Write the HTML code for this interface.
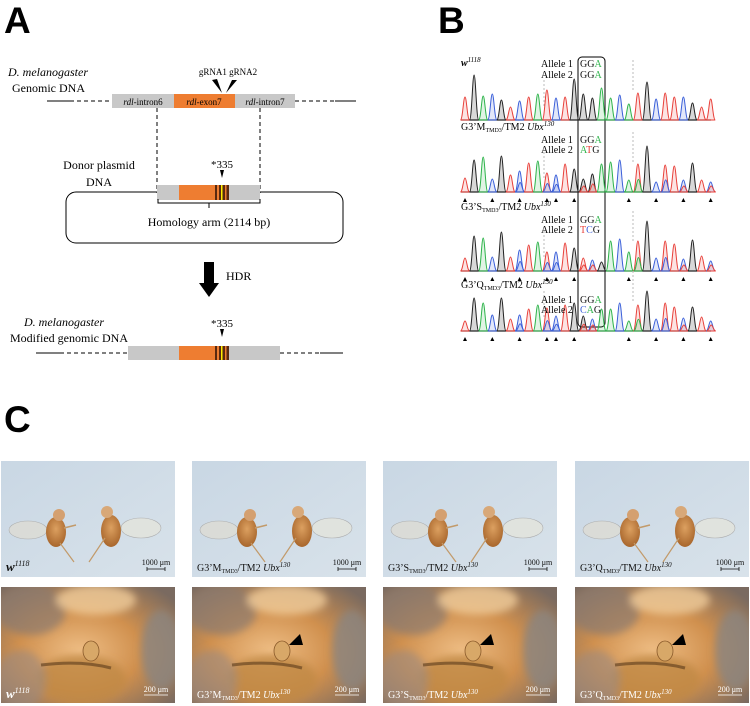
<!DOCTYPE html>
<html><head><meta charset="utf-8"><style>
html,body{margin:0;padding:0;background:#fff}
svg{display:block}
text{font-family:"Liberation Serif",serif}
.lbl{font-family:"Liberation Sans",sans-serif;font-weight:bold}
</style></head><body>
<svg id="fig" width="750" height="706" viewBox="0 0 750 706" xmlns="http://www.w3.org/2000/svg">
<defs>
<linearGradient id="sky" x1="0" y1="0" x2="1" y2="1"><stop offset="0" stop-color="#c9d7e4"/><stop offset="1" stop-color="#d8e2ea"/></linearGradient>
<radialGradient id="body" cx="0.5" cy="0.4" r="0.6"><stop offset="0" stop-color="#dca060"/><stop offset="1" stop-color="#a8662c"/></radialGradient>
<radialGradient id="macro" cx="0.45" cy="0.55" r="0.7"><stop offset="0" stop-color="#eebd84"/><stop offset="0.5" stop-color="#d0904e"/><stop offset="1" stop-color="#7a6a60"/></radialGradient>
<filter id="blur"><feGaussianBlur stdDeviation="4"/></filter>
</defs>

<g>
<text class="lbl" x="4" y="33" font-size="37">A</text>
<text x="8" y="76" font-size="12" font-style="italic">D. melanogaster</text>
<text x="12" y="92" font-size="12">Genomic DNA</text>
<line x1="47" y1="101" x2="70" y2="101" stroke="#000"/>
<line x1="70" y1="101" x2="112" y2="101" stroke="#000" stroke-dasharray="4,3"/>
<rect x="112" y="94" width="62" height="14" fill="#c8c8c8"/>
<rect x="174" y="94" width="61" height="14" fill="#ee7d31"/>
<rect x="235" y="94" width="60" height="14" fill="#c8c8c8"/>
<text x="143" y="105" font-size="9" text-anchor="middle"><tspan font-style="italic">rdl</tspan>-intron6</text>
<text x="204" y="105" font-size="9" text-anchor="middle"><tspan font-style="italic">rdl</tspan>-exon7</text>
<text x="265" y="105" font-size="9" text-anchor="middle"><tspan font-style="italic">rdl</tspan>-intron7</text>
<line x1="295" y1="101" x2="335" y2="101" stroke="#000" stroke-dasharray="4,3"/>
<line x1="335" y1="101" x2="356" y2="101" stroke="#000"/>
<text x="228" y="75" font-size="9" text-anchor="middle">gRNA1 gRNA2</text>
<polygon points="212,80 217,79 222,93" fill="#000"/>
<polygon points="232,80 237,80 226,93" fill="#000"/>
<line x1="157" y1="108" x2="157" y2="193" stroke="#000" stroke-dasharray="4,3"/>
<line x1="260" y1="108" x2="260" y2="193" stroke="#000" stroke-dasharray="4,3"/>
<text x="99" y="169" font-size="12" text-anchor="middle">Donor plasmid</text>
<text x="99" y="186" font-size="12" text-anchor="middle">DNA</text>
<rect x="66" y="192" width="277" height="51" rx="10" fill="none" stroke="#000"/>
<rect x="157" y="185" width="103" height="15" fill="#c8c8c8"/>
<rect x="179" y="185" width="50" height="15" fill="#ee7d31"/>
<rect x="215" y="185" width="14" height="15" fill="#5a2a10"/>
<rect x="217" y="185" width="2" height="15" fill="#ee7d31"/><rect x="221" y="185" width="1.5" height="15" fill="#ffee00"/><rect x="225" y="185" width="1.5" height="15" fill="#ee7d31"/>
<text x="222" y="168" font-size="11" text-anchor="middle">*335</text>
<polygon points="220,170 224,170 222,178" fill="#000"/>
<path d="M158,199 V203 H260 V199 M209,203 V208" fill="none" stroke="#000"/>
<text x="209" y="226" font-size="12" text-anchor="middle">Homology arm (2114 bp)</text>
<rect x="204" y="262" width="10" height="21" fill="#000"/>
<polygon points="199,283 219,283 209,297" fill="#000"/>
<text x="226" y="280" font-size="12">HDR</text>
<text x="24" y="326" font-size="12" font-style="italic">D. melanogaster</text>
<text x="10" y="342" font-size="12">Modified genomic DNA</text>
<text x="222" y="327" font-size="11" text-anchor="middle">*335</text>
<polygon points="220,329 224,329 222,337" fill="#000"/>
<line x1="36" y1="353" x2="60" y2="353" stroke="#000"/>
<line x1="60" y1="353" x2="128" y2="353" stroke="#000" stroke-dasharray="4,3"/>
<rect x="128" y="346" width="152" height="14" fill="#c8c8c8"/>
<rect x="179" y="346" width="50" height="14" fill="#ee7d31"/>
<rect x="215" y="346" width="14" height="14" fill="#5a2a10"/>
<rect x="217" y="346" width="2" height="14" fill="#ee7d31"/><rect x="221" y="346" width="1.5" height="14" fill="#ffee00"/><rect x="225" y="346" width="1.5" height="14" fill="#ee7d31"/>
<line x1="280" y1="353" x2="320" y2="353" stroke="#000" stroke-dasharray="4,3"/>
<line x1="320" y1="353" x2="343" y2="353" stroke="#000"/>
</g>

<g id="panelB">
<text class="lbl" x="438" y="33" font-size="37">B</text>
<rect x="578" y="57" width="27" height="270" rx="4" fill="none" stroke="#000" stroke-width="1"/>
</g>

<g id="panelC">
<text class="lbl" x="4" y="432" font-size="37">C</text>
</g>
</svg>
<script>
const NS='http://www.w3.org/2000/svg';
const svg=document.getElementById('fig');
const pB=document.getElementById('panelB');
const pC=document.getElementById('panelC');
function mk(tag,attrs,parent){const e=document.createElementNS(NS,tag);for(const k in attrs)e.setAttribute(k,attrs[k]);(parent||svg).appendChild(e);return e;}

const track1Bases=['T','G','A','C','G','T','C','T','A','T','C','T','G','G','G','A','A','C','A','T','G','C','T','T','C','G','T','T'];
const track1Heights=[23,45,24,26,20,13,19,23,26,30,22,23,41,26,22,32,22,25,16,27,38,21,27,23,23,17,13,21];
const track2Bases=['T','G','A','C','G','T','C','T','A','T','C','T','G','G','G','A','A','C','A','T','G','C','T','T','C','G','T','C'];
const track2Heights=[14,32,35,13,36,17,21,29,31,19,17,28,23,13,18,28,30,32,12,28,46,10,27,26,12,29,12,10];
const track3Bases=['T','G','A','C','G','T','C','T','A','T','C','T','G','T','C','G','A','C','A','T','G','C','T','T','C','G','T','C'];
const track3Heights=[13,35,33,14,39,14,21,26,29,19,19,28,23,13,11,9,30,32,19,30,50,13,30,27,12,31,15,10];
const track4Bases=['T','G','A','C','G','T','C','T','A','T','C','T','G','G','C','A','A','C','A','T','G','C','T','T','C','G','T','C'];
const track4Heights=[10,33,28,16,33,12,16,22,26,23,15,26,28,15,12,22,22,28,10,26,40,12,28,24,13,24,14,10];
const secondBases=[null,null,null,null,null,null,'C',null,null,'C','C',null,null,'T','T',null,null,null,null,'A',null,null,'C',null,'T',null,null,'T'];
const trackLabels=[['w','1118'],['G3’M','TMD3'],['G3’S','TMD3'],['G3’Q','TMD3']];
const allele2=[['G','G','A'],['A','T','G'],['T','C','G'],['C','A','G']];
const triIdx=[0,3,6,9,10,12,18,21,24,27];

const col={A:'#2db34a',C:'#3a5fd9',G:'#222',T:'#e8403a'};
const fillc={A:'rgba(45,179,74,0.15)',C:'rgba(58,95,217,0.15)',G:'rgba(60,60,60,0.2)',T:'rgba(232,64,58,0.15)'};
const baselines=[120,192,271,331];
const x0=465,dx=9.1;
const xAt=i=>x0+i*dx;
const tracks=[[track1Bases,track1Heights],[track2Bases,track2Heights],[track3Bases,track3Heights],[track4Bases,track4Heights]];
function peak(g,x,b,h,base,name){
  const w=4.6;
  const d=`M${x-w},${b} C${x-w*0.5},${b} ${x-w*0.35},${b-h} ${x},${b-h} C${x+w*0.35},${b-h} ${x+w*0.5},${b} ${x+w},${b} Z`;
  const p=mk('path',{d,fill:fillc[base],stroke:col[base],'stroke-width':1},g);
  
  
}
tracks.forEach((t,ti)=>{
  const g=mk('g',{},pB);
  
  
  const b=baselines[ti];
  mk('line',{x1:461,y1:b,x2:711,y2:b,stroke:'#333','stroke-width':1.2},g);
  mk('line',{x1:544,y1:b-40,x2:544,y2:b-12,stroke:'#bbb','stroke-dasharray':'2,2'},g);
  mk('line',{x1:633,y1:b-60,x2:633,y2:b-30,stroke:'#bbb','stroke-dasharray':'2,2'},g);
  t[0].forEach((base,i)=>{
    peak(g,xAt(i),b,t[1][i],base,'peak');
    if(ti>0&&secondBases[i]) peak(g,xAt(i)+0.5,b,Math.max(6,t[1][i]*0.45),secondBases[i],'secondary-peak');
  });
  if(ti>0){triIdx.forEach(i=>{const tr=mk('polygon',{points:`${xAt(i)-2},${b+10} ${xAt(i)+2},${b+10} ${xAt(i)},${b+6}`,fill:'#000'},g);
    });}
  const ly=[66,130,210,288][ti];
  const tx=mk('text',{x:461,y:ly,'font-size':10},g);
  
  
  if(ti==0){tx.innerHTML='<tspan font-style="italic" font-weight="bold">w</tspan><tspan font-style="italic" font-size="7" dy="-4">1118</tspan>';}
  else tx.innerHTML=`${trackLabels[ti][0]}<tspan font-size="6" dy="2">TMD3</tspan><tspan dy="-2">/TM2 </tspan><tspan font-style="italic">Ubx</tspan><tspan font-style="italic" font-size="7" dy="-4">130</tspan>`;
  const ay=[66,77,142,152,222,232,302,312];
  ['Allele 1','Allele 2'].forEach((s,k)=>{
    const y=ay[ti*2+k]+1;
    const a=mk('text',{x:541,y,'font-size':10},g);a.textContent=s;
    
    const codon=k==0?['G','G','A']:allele2[ti];
    const c=mk('text',{x:580,y,'font-size':10},g);
    
    c.innerHTML=codon.map(ch=>`<tspan fill="${ch=='A'?'#2db34a':ch=='C'?'#3a5fd9':ch=='T'?'#e8403a':'#111'}">${ch}</tspan>`).join('');
  });
});

const colX=[1,192,383,575];
const labels=[null,'G3’M','G3’S','G3’Q'];
colX.forEach((x,i)=>{
  const gt=mk('g',{},pC);
  
  
  mk('rect',{x,y:461,width:174,height:116,fill:'url(#sky)'},gt);
  const cx1=x+55,cx2=x+110;
  mk('ellipse',{cx:cx1-28,cy:530,rx:19,ry:9,fill:'#dcdcd6',stroke:'#aaa','stroke-width':0.6,opacity:0.9},gt);
  mk('ellipse',{cx:cx1,cy:532,rx:10,ry:15,fill:'url(#body)'},gt);
  mk('circle',{cx:cx1+3,cy:515,r:6,fill:'#d4a070'},gt);
  mk('line',{x1:cx1+4,y1:543,x2:cx1+18,y2:562,stroke:'#c29a6a','stroke-width':1.2},gt);
  mk('line',{x1:cx1+8,y1:528,x2:cx1+20,y2:525,stroke:'#c29a6a','stroke-width':1.5},gt);
  mk('ellipse',{cx:cx2+30,cy:528,rx:20,ry:10,fill:'#e2e4de',stroke:'#aaa','stroke-width':0.6,opacity:0.9},gt);
  mk('ellipse',{cx:cx2,cy:531,rx:10,ry:16,fill:'url(#body)'},gt);
  mk('circle',{cx:cx2-4,cy:512,r:6,fill:'#d8a878'},gt);
  mk('line',{x1:cx2-6,y1:538,x2:cx2-22,y2:562,stroke:'#c29a6a','stroke-width':1.2},gt);
  const t=mk('text',{x:x+5,y:571,'font-size':i==0?13:10,fill:'#111'},gt);
  
  t.innerHTML=i==0?'<tspan font-style="italic" font-weight="bold">w</tspan><tspan font-style="italic" font-size="8" dy="-5">1118</tspan>':`${labels[i]}<tspan font-size="6" dy="2">TMD3</tspan><tspan dy="-2">/TM2 </tspan><tspan font-style="italic">Ubx</tspan><tspan font-style="italic" font-size="7" dy="-4">130</tspan>`;
  const s=mk('text',{x:x+155,y:565,'font-size':8,'text-anchor':'middle',fill:'#111'},gt);s.textContent='1000 μm';
  
  mk('path',{d:`M${x+146},${569} H${x+164} M${x+146},567 V571 M${x+164},567 V571`,stroke:'#111','stroke-width':0.8,fill:'none'},gt);

  const gb=mk('g',{},pC);
  
  
  const clip=mk('clipPath',{id:'clip'+i},gb);
  mk('rect',{x,y:587,width:174,height:116},clip);
  const inner=mk('g',{'clip-path':`url(#clip${i})`},gb);
  mk('rect',{x,y:587,width:174,height:116,fill:'url(#macro)'},inner);
  const bl=mk('g',{filter:'url(#blur)'},inner);
  mk('ellipse',{cx:x+30,cy:610,rx:35,ry:25,fill:'#8a7a70',opacity:0.7},bl);
  mk('ellipse',{cx:x+95,cy:600,rx:40,ry:15,fill:'#f0cc9a',opacity:0.8},bl);
  mk('ellipse',{cx:x+80,cy:680,rx:45,ry:25,fill:'#c08a45',opacity:0.8},bl);
  mk('ellipse',{cx:x+160,cy:650,rx:20,ry:40,fill:'#8c8680',opacity:0.8},bl);
  mk('ellipse',{cx:x+20,cy:680,rx:25,ry:30,fill:'#9c8a80',opacity:0.6},bl);
  mk('path',{d:`M${x+40},${665} Q${x+80},${660} ${x+110},${668}`,stroke:'#5a3a1a','stroke-width':3,fill:'none',opacity:0.6},inner);
  mk('ellipse',{cx:x+90,cy:651,rx:8,ry:10,fill:'#d8a868',stroke:'#8a5a2a','stroke-width':0.8},inner);
  if(i>0){const tri=mk('polygon',{points:`${x+97},${645} ${x+108},${634} ${x+111},${645}`,fill:'#000'},inner);
    }
  const t2=mk('text',{x:x+5,y:698,'font-size':i==0?13:10,fill:'#fff'},gb);
  
  t2.innerHTML=t.innerHTML;
  const s2=mk('text',{x:x+155,y:692,'font-size':8,'text-anchor':'middle',fill:'#fff'},gb);s2.textContent='200 μm';
  
  mk('path',{d:`M${x+143},${695} H${x+167}`,stroke:'#fff','stroke-width':0.8},gb);
});
</script>
</body></html>
